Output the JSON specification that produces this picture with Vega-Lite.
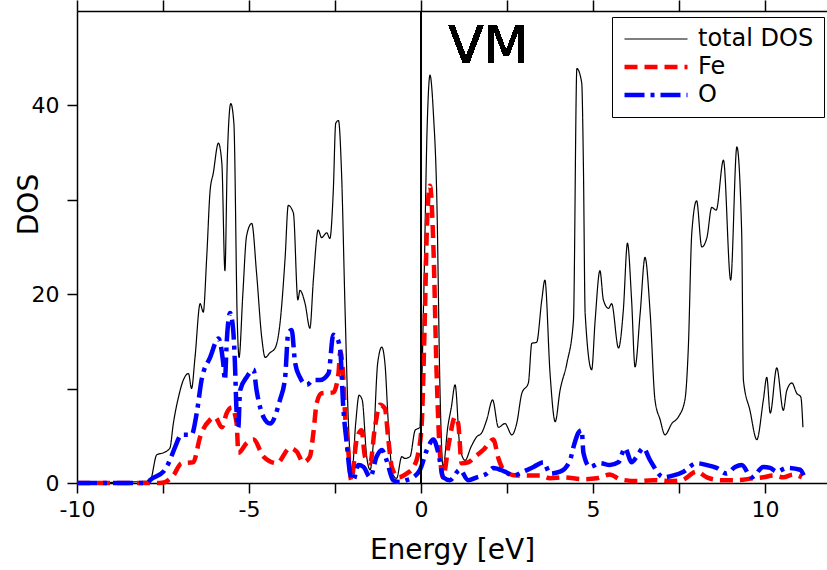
{
  "$schema": "https://vega.github.io/schema/vega-lite/v6.json",
  "width": 750,
  "height": 472,
  "autosize": {"type": "none"},
  "padding": {"left": 77, "top": 11, "right": 0, "bottom": 87},
  "background": "white",
  "config": {"view": {"stroke": null}, "font": "DejaVu Sans"},
  "datasets": {
    "dos": [
      {"series": "total DOS", "energy": -10, "dos": 0},
      {"series": "total DOS", "energy": -7.88, "dos": 0.2},
      {"series": "total DOS", "energy": -7.68, "dos": 3.0},
      {"series": "total DOS", "energy": -7.49, "dos": 3.2},
      {"series": "total DOS", "energy": -7.30, "dos": 3.7},
      {"series": "total DOS", "energy": -7.20, "dos": 6.3},
      {"series": "total DOS", "energy": -7.05, "dos": 9.1},
      {"series": "total DOS", "energy": -6.91, "dos": 10.9},
      {"series": "total DOS", "energy": -6.76, "dos": 11.6},
      {"series": "total DOS", "energy": -6.67, "dos": 10.0},
      {"series": "total DOS", "energy": -6.57, "dos": 13.3},
      {"series": "total DOS", "energy": -6.42, "dos": 19.0},
      {"series": "total DOS", "energy": -6.33, "dos": 18.1},
      {"series": "total DOS", "energy": -6.23, "dos": 23.9},
      {"series": "total DOS", "energy": -6.13, "dos": 31.0},
      {"series": "total DOS", "energy": -6.04, "dos": 32.8},
      {"series": "total DOS", "energy": -5.89, "dos": 36.0},
      {"series": "total DOS", "energy": -5.79, "dos": 33.9},
      {"series": "total DOS", "energy": -5.70, "dos": 22.5},
      {"series": "total DOS", "energy": -5.63, "dos": 34.5},
      {"series": "total DOS", "energy": -5.53, "dos": 40.2},
      {"series": "total DOS", "energy": -5.44, "dos": 38.1},
      {"series": "total DOS", "energy": -5.34, "dos": 16.9},
      {"series": "total DOS", "energy": -5.29, "dos": 13.3},
      {"series": "total DOS", "energy": -5.18, "dos": 20.0},
      {"series": "total DOS", "energy": -5.07, "dos": 26.2},
      {"series": "total DOS", "energy": -4.92, "dos": 27.5},
      {"series": "total DOS", "energy": -4.78, "dos": 22.2},
      {"series": "total DOS", "energy": -4.63, "dos": 15.4},
      {"series": "total DOS", "energy": -4.53, "dos": 13.3},
      {"series": "total DOS", "energy": -4.39, "dos": 13.8},
      {"series": "total DOS", "energy": -4.24, "dos": 14.3},
      {"series": "total DOS", "energy": -4.10, "dos": 16.9},
      {"series": "total DOS", "energy": -3.95, "dos": 23.9},
      {"series": "total DOS", "energy": -3.86, "dos": 29.4},
      {"series": "total DOS", "energy": -3.71, "dos": 28.6},
      {"series": "total DOS", "energy": -3.58, "dos": 19.4},
      {"series": "total DOS", "energy": -3.52, "dos": 20.4},
      {"series": "total DOS", "energy": -3.37, "dos": 19.0},
      {"series": "total DOS", "energy": -3.23, "dos": 16.4},
      {"series": "total DOS", "energy": -3.13, "dos": 21.5},
      {"series": "total DOS", "energy": -2.99, "dos": 26.8},
      {"series": "total DOS", "energy": -2.89, "dos": 26.0},
      {"series": "total DOS", "energy": -2.74, "dos": 26.5},
      {"series": "total DOS", "energy": -2.65, "dos": 25.9},
      {"series": "total DOS", "energy": -2.55, "dos": 31.0},
      {"series": "total DOS", "energy": -2.48, "dos": 38.1},
      {"series": "total DOS", "energy": -2.40, "dos": 38.4},
      {"series": "total DOS", "energy": -2.31, "dos": 32.8},
      {"series": "total DOS", "energy": -2.21, "dos": 18.6},
      {"series": "total DOS", "energy": -2.11, "dos": 6.3},
      {"series": "total DOS", "energy": -2.01, "dos": 1.0},
      {"series": "total DOS", "energy": -1.90, "dos": 6.3},
      {"series": "total DOS", "energy": -1.80, "dos": 9.3},
      {"series": "total DOS", "energy": -1.71, "dos": 8.8},
      {"series": "total DOS", "energy": -1.58, "dos": 2.8},
      {"series": "total DOS", "energy": -1.48, "dos": 1.4},
      {"series": "total DOS", "energy": -1.38, "dos": 4.6},
      {"series": "total DOS", "energy": -1.26, "dos": 12.7},
      {"series": "total DOS", "energy": -1.14, "dos": 14.4},
      {"series": "total DOS", "energy": -1.05, "dos": 12.7},
      {"series": "total DOS", "energy": -0.95, "dos": 6.3},
      {"series": "total DOS", "energy": -0.83, "dos": 1.0},
      {"series": "total DOS", "energy": -0.71, "dos": 0.5},
      {"series": "total DOS", "energy": -0.56, "dos": 2.8},
      {"series": "total DOS", "energy": -0.47, "dos": 2.6},
      {"series": "total DOS", "energy": -0.32, "dos": 2.8},
      {"series": "total DOS", "energy": -0.17, "dos": 5.6},
      {"series": "total DOS", "energy": -0.03, "dos": 5.9},
      {"series": "total DOS", "energy": 0.08, "dos": 20.0},
      {"series": "total DOS", "energy": 0.18, "dos": 38.0},
      {"series": "total DOS", "energy": 0.26, "dos": 43.2},
      {"series": "total DOS", "energy": 0.36, "dos": 39.1},
      {"series": "total DOS", "energy": 0.46, "dos": 29.9},
      {"series": "total DOS", "energy": 0.55, "dos": 10.0},
      {"series": "total DOS", "energy": 0.64, "dos": 1.7},
      {"series": "total DOS", "energy": 0.78, "dos": 6.0},
      {"series": "total DOS", "energy": 0.88, "dos": 8.0},
      {"series": "total DOS", "energy": 0.99, "dos": 10.4},
      {"series": "total DOS", "energy": 1.13, "dos": 3.8},
      {"series": "total DOS", "energy": 1.28, "dos": 2.4},
      {"series": "total DOS", "energy": 1.45, "dos": 3.8},
      {"series": "total DOS", "energy": 1.62, "dos": 4.9},
      {"series": "total DOS", "energy": 1.76, "dos": 5.3},
      {"series": "total DOS", "energy": 1.91, "dos": 6.7},
      {"series": "total DOS", "energy": 2.08, "dos": 8.8},
      {"series": "total DOS", "energy": 2.25, "dos": 5.9},
      {"series": "total DOS", "energy": 2.44, "dos": 6.3},
      {"series": "total DOS", "energy": 2.64, "dos": 5.1},
      {"series": "total DOS", "energy": 2.78, "dos": 6.3},
      {"series": "total DOS", "energy": 2.93, "dos": 9.5},
      {"series": "total DOS", "energy": 3.12, "dos": 10.6},
      {"series": "total DOS", "energy": 3.22, "dos": 14.8},
      {"series": "total DOS", "energy": 3.36, "dos": 14.9},
      {"series": "total DOS", "energy": 3.51, "dos": 19.4},
      {"series": "total DOS", "energy": 3.60, "dos": 21.5},
      {"series": "total DOS", "energy": 3.75, "dos": 11.6},
      {"series": "total DOS", "energy": 3.90, "dos": 6.5},
      {"series": "total DOS", "energy": 4.04, "dos": 9.8},
      {"series": "total DOS", "energy": 4.24, "dos": 12.7},
      {"series": "total DOS", "energy": 4.43, "dos": 17.2},
      {"series": "total DOS", "energy": 4.53, "dos": 43.9},
      {"series": "total DOS", "energy": 4.67, "dos": 42.4},
      {"series": "total DOS", "energy": 4.72, "dos": 33.5},
      {"series": "total DOS", "energy": 4.77, "dos": 18.0},
      {"series": "total DOS", "energy": 4.96, "dos": 12.0},
      {"series": "total DOS", "energy": 5.06, "dos": 17.2},
      {"series": "total DOS", "energy": 5.20, "dos": 22.5},
      {"series": "total DOS", "energy": 5.30, "dos": 19.4},
      {"series": "total DOS", "energy": 5.45, "dos": 18.5},
      {"series": "total DOS", "energy": 5.54, "dos": 19.0},
      {"series": "total DOS", "energy": 5.74, "dos": 14.3},
      {"series": "total DOS", "energy": 5.88, "dos": 18.3},
      {"series": "total DOS", "energy": 6.00, "dos": 25.4},
      {"series": "total DOS", "energy": 6.12, "dos": 19.4},
      {"series": "total DOS", "energy": 6.22, "dos": 12.3},
      {"series": "total DOS", "energy": 6.37, "dos": 18.0},
      {"series": "total DOS", "energy": 6.51, "dos": 23.9},
      {"series": "total DOS", "energy": 6.66, "dos": 18.0},
      {"series": "total DOS", "energy": 6.80, "dos": 8.8},
      {"series": "total DOS", "energy": 6.95, "dos": 6.7},
      {"series": "total DOS", "energy": 7.09, "dos": 5.1},
      {"series": "total DOS", "energy": 7.29, "dos": 6.3},
      {"series": "total DOS", "energy": 7.48, "dos": 7.0},
      {"series": "total DOS", "energy": 7.67, "dos": 8.8},
      {"series": "total DOS", "energy": 7.77, "dos": 14.4},
      {"series": "total DOS", "energy": 7.87, "dos": 26.5},
      {"series": "total DOS", "energy": 8.01, "dos": 29.9},
      {"series": "total DOS", "energy": 8.16, "dos": 25.0},
      {"series": "total DOS", "energy": 8.31, "dos": 26.0},
      {"series": "total DOS", "energy": 8.45, "dos": 29.2},
      {"series": "total DOS", "energy": 8.58, "dos": 28.9},
      {"series": "total DOS", "energy": 8.79, "dos": 34.2},
      {"series": "total DOS", "energy": 9.00, "dos": 21.5},
      {"series": "total DOS", "energy": 9.18, "dos": 35.6},
      {"series": "total DOS", "energy": 9.32, "dos": 26.5},
      {"series": "total DOS", "energy": 9.37, "dos": 10.9},
      {"series": "total DOS", "energy": 9.56, "dos": 7.7},
      {"series": "total DOS", "energy": 9.76, "dos": 4.6},
      {"series": "total DOS", "energy": 9.95, "dos": 8.8},
      {"series": "total DOS", "energy": 10.05, "dos": 11.2},
      {"series": "total DOS", "energy": 10.15, "dos": 7.4},
      {"series": "total DOS", "energy": 10.34, "dos": 12.2},
      {"series": "total DOS", "energy": 10.53, "dos": 7.7},
      {"series": "total DOS", "energy": 10.63, "dos": 9.8},
      {"series": "total DOS", "energy": 10.78, "dos": 10.6},
      {"series": "total DOS", "energy": 10.92, "dos": 9.5},
      {"series": "total DOS", "energy": 11.04, "dos": 9.1},
      {"series": "total DOS", "energy": 11.10, "dos": 5.9},

      {"series": "Fe", "energy": -10, "dos": 0},
      {"series": "Fe", "energy": -7.6, "dos": 0},
      {"series": "Fe", "energy": -7.44, "dos": 0.1},
      {"series": "Fe", "energy": -7.20, "dos": 0.8},
      {"series": "Fe", "energy": -6.96, "dos": 2.1},
      {"series": "Fe", "energy": -6.62, "dos": 2.2},
      {"series": "Fe", "energy": -6.42, "dos": 4.9},
      {"series": "Fe", "energy": -6.13, "dos": 6.7},
      {"series": "Fe", "energy": -5.99, "dos": 7.0},
      {"series": "Fe", "energy": -5.79, "dos": 5.9},
      {"series": "Fe", "energy": -5.65, "dos": 7.4},
      {"series": "Fe", "energy": -5.50, "dos": 8.0},
      {"series": "Fe", "energy": -5.36, "dos": 6.3},
      {"series": "Fe", "energy": -5.31, "dos": 3.2},
      {"series": "Fe", "energy": -5.07, "dos": 4.2},
      {"series": "Fe", "energy": -4.87, "dos": 4.6},
      {"series": "Fe", "energy": -4.58, "dos": 2.8},
      {"series": "Fe", "energy": -4.19, "dos": 2.1},
      {"series": "Fe", "energy": -3.81, "dos": 3.7},
      {"series": "Fe", "energy": -3.61, "dos": 3.3},
      {"series": "Fe", "energy": -3.42, "dos": 2.2},
      {"series": "Fe", "energy": -3.23, "dos": 2.8},
      {"series": "Fe", "energy": -3.13, "dos": 5.3},
      {"series": "Fe", "energy": -3.03, "dos": 8.5},
      {"series": "Fe", "energy": -2.89, "dos": 9.5},
      {"series": "Fe", "energy": -2.55, "dos": 9.6},
      {"series": "Fe", "energy": -2.40, "dos": 11.6},
      {"series": "Fe", "energy": -2.35, "dos": 13.9},
      {"series": "Fe", "energy": -2.26, "dos": 11.2},
      {"series": "Fe", "energy": -2.21, "dos": 7.4},
      {"series": "Fe", "energy": -2.11, "dos": 3.2},
      {"series": "Fe", "energy": -2.03, "dos": 0.3},
      {"series": "Fe", "energy": -1.87, "dos": 4.6},
      {"series": "Fe", "energy": -1.73, "dos": 5.6},
      {"series": "Fe", "energy": -1.63, "dos": 2.8},
      {"series": "Fe", "energy": -1.48, "dos": 2.1},
      {"series": "Fe", "energy": -1.34, "dos": 5.9},
      {"series": "Fe", "energy": -1.19, "dos": 8.3},
      {"series": "Fe", "energy": -1.05, "dos": 7.9},
      {"series": "Fe", "energy": -0.95, "dos": 4.6},
      {"series": "Fe", "energy": -0.85, "dos": 1.7},
      {"series": "Fe", "energy": -0.66, "dos": 0.6},
      {"series": "Fe", "energy": -0.42, "dos": 1.0},
      {"series": "Fe", "energy": -0.22, "dos": 1.7},
      {"series": "Fe", "energy": -0.08, "dos": 3.2},
      {"series": "Fe", "energy": 0.02, "dos": 6.3},
      {"series": "Fe", "energy": 0.10, "dos": 16.0},
      {"series": "Fe", "energy": 0.18, "dos": 28.0},
      {"series": "Fe", "energy": 0.26, "dos": 31.5},
      {"series": "Fe", "energy": 0.36, "dos": 25.0},
      {"series": "Fe", "energy": 0.45, "dos": 12.0},
      {"series": "Fe", "energy": 0.55, "dos": 3.0},
      {"series": "Fe", "energy": 0.64, "dos": 0.6},
      {"series": "Fe", "energy": 0.80, "dos": 4.0},
      {"series": "Fe", "energy": 0.99, "dos": 7.0},
      {"series": "Fe", "energy": 1.08, "dos": 6.3},
      {"series": "Fe", "energy": 1.18, "dos": 2.1},
      {"series": "Fe", "energy": 1.37, "dos": 2.2},
      {"series": "Fe", "energy": 1.57, "dos": 2.8},
      {"series": "Fe", "energy": 1.81, "dos": 3.5},
      {"series": "Fe", "energy": 2.10, "dos": 4.6},
      {"series": "Fe", "energy": 2.25, "dos": 2.6},
      {"series": "Fe", "energy": 2.44, "dos": 1.2},
      {"series": "Fe", "energy": 2.78, "dos": 0.8},
      {"series": "Fe", "energy": 3.12, "dos": 0.8},
      {"series": "Fe", "energy": 3.46, "dos": 0.8},
      {"series": "Fe", "energy": 3.75, "dos": 0.5},
      {"series": "Fe", "energy": 4.14, "dos": 0.6},
      {"series": "Fe", "energy": 4.72, "dos": 0.4},
      {"series": "Fe", "energy": 5.11, "dos": 0.5},
      {"series": "Fe", "energy": 5.49, "dos": 0.9},
      {"series": "Fe", "energy": 5.78, "dos": 0.4},
      {"series": "Fe", "energy": 6.27, "dos": 0.2},
      {"series": "Fe", "energy": 6.75, "dos": 0.3},
      {"series": "Fe", "energy": 7.24, "dos": 0.2},
      {"series": "Fe", "energy": 7.58, "dos": 0.3},
      {"series": "Fe", "energy": 8.01, "dos": 1.2},
      {"series": "Fe", "energy": 8.31, "dos": 0.6},
      {"series": "Fe", "energy": 8.69, "dos": 0.3},
      {"series": "Fe", "energy": 9.18, "dos": 0.3},
      {"series": "Fe", "energy": 9.66, "dos": 0.5},
      {"series": "Fe", "energy": 9.95, "dos": 0.6},
      {"series": "Fe", "energy": 10.24, "dos": 0.8},
      {"series": "Fe", "energy": 10.53, "dos": 0.6},
      {"series": "Fe", "energy": 10.82, "dos": 0.9},
      {"series": "Fe", "energy": 11.07, "dos": 0.6},

      {"series": "O", "energy": -10, "dos": 0},
      {"series": "O", "energy": -7.95, "dos": 0},
      {"series": "O", "energy": -7.88, "dos": 0.3},
      {"series": "O", "energy": -7.49, "dos": 1.2},
      {"series": "O", "energy": -7.30, "dos": 2.4},
      {"series": "O", "energy": -7.15, "dos": 3.8},
      {"series": "O", "energy": -6.96, "dos": 5.1},
      {"series": "O", "energy": -6.67, "dos": 5.1},
      {"series": "O", "energy": -6.52, "dos": 7.4},
      {"series": "O", "energy": -6.38, "dos": 10.9},
      {"series": "O", "energy": -6.13, "dos": 13.3},
      {"series": "O", "energy": -5.89, "dos": 15.3},
      {"series": "O", "energy": -5.75, "dos": 12.7},
      {"series": "O", "energy": -5.70, "dos": 10.9},
      {"series": "O", "energy": -5.65, "dos": 14.8},
      {"series": "O", "energy": -5.55, "dos": 18.0},
      {"series": "O", "energy": -5.46, "dos": 16.2},
      {"series": "O", "energy": -5.41, "dos": 12.7},
      {"series": "O", "energy": -5.36, "dos": 7.4},
      {"series": "O", "energy": -5.31, "dos": 5.9},
      {"series": "O", "energy": -5.26, "dos": 9.8},
      {"series": "O", "energy": -5.07, "dos": 11.2},
      {"series": "O", "energy": -4.87, "dos": 12.0},
      {"series": "O", "energy": -4.78, "dos": 9.8},
      {"series": "O", "energy": -4.58, "dos": 7.0},
      {"series": "O", "energy": -4.39, "dos": 6.3},
      {"series": "O", "energy": -4.10, "dos": 8.8},
      {"series": "O", "energy": -3.95, "dos": 11.2},
      {"series": "O", "energy": -3.86, "dos": 15.9},
      {"series": "O", "energy": -3.76, "dos": 16.2},
      {"series": "O", "energy": -3.66, "dos": 12.7},
      {"series": "O", "energy": -3.52, "dos": 11.2},
      {"series": "O", "energy": -3.32, "dos": 10.4},
      {"series": "O", "energy": -3.13, "dos": 10.9},
      {"series": "O", "energy": -2.94, "dos": 10.9},
      {"series": "O", "energy": -2.69, "dos": 11.6},
      {"series": "O", "energy": -2.55, "dos": 15.7},
      {"series": "O", "energy": -2.45, "dos": 15.4},
      {"series": "O", "energy": -2.35, "dos": 14.1},
      {"series": "O", "energy": -2.26, "dos": 8.0},
      {"series": "O", "energy": -2.16, "dos": 4.2},
      {"series": "O", "energy": -2.06, "dos": 1.0},
      {"series": "O", "energy": -1.97, "dos": 0.3},
      {"series": "O", "energy": -1.82, "dos": 1.9},
      {"series": "O", "energy": -1.67, "dos": 1.7},
      {"series": "O", "energy": -1.48, "dos": 0.6},
      {"series": "O", "energy": -1.29, "dos": 2.8},
      {"series": "O", "energy": -1.14, "dos": 3.5},
      {"series": "O", "energy": -1.00, "dos": 2.4},
      {"series": "O", "energy": -0.81, "dos": 0.3},
      {"series": "O", "energy": -0.61, "dos": 0.1},
      {"series": "O", "energy": -0.42, "dos": 0.3},
      {"series": "O", "energy": -0.22, "dos": 0.6},
      {"series": "O", "energy": -0.03, "dos": 1.4},
      {"series": "O", "energy": 0.17, "dos": 3.5},
      {"series": "O", "energy": 0.36, "dos": 4.6},
      {"series": "O", "energy": 0.50, "dos": 3.2},
      {"series": "O", "energy": 0.65, "dos": 0.6},
      {"series": "O", "energy": 0.84, "dos": 0.3},
      {"series": "O", "energy": 1.13, "dos": 1.4},
      {"series": "O", "energy": 1.37, "dos": 0.3},
      {"series": "O", "energy": 1.62, "dos": 0.6},
      {"series": "O", "energy": 1.91, "dos": 1.0},
      {"series": "O", "energy": 2.10, "dos": 1.6},
      {"series": "O", "energy": 2.44, "dos": 1.2},
      {"series": "O", "energy": 2.68, "dos": 0.8},
      {"series": "O", "energy": 2.97, "dos": 1.2},
      {"series": "O", "energy": 3.27, "dos": 1.7},
      {"series": "O", "energy": 3.56, "dos": 2.2},
      {"series": "O", "energy": 3.75, "dos": 1.0},
      {"series": "O", "energy": 4.04, "dos": 1.2},
      {"series": "O", "energy": 4.33, "dos": 2.4},
      {"series": "O", "energy": 4.43, "dos": 3.8},
      {"series": "O", "energy": 4.57, "dos": 5.3},
      {"series": "O", "energy": 4.67, "dos": 5.6},
      {"series": "O", "energy": 4.72, "dos": 3.2},
      {"series": "O", "energy": 4.91, "dos": 1.7},
      {"series": "O", "energy": 5.20, "dos": 2.1},
      {"series": "O", "energy": 5.49, "dos": 1.9},
      {"series": "O", "energy": 5.74, "dos": 2.2},
      {"series": "O", "energy": 5.93, "dos": 3.7},
      {"series": "O", "energy": 6.12, "dos": 2.2},
      {"series": "O", "energy": 6.27, "dos": 2.8},
      {"series": "O", "energy": 6.46, "dos": 3.7},
      {"series": "O", "energy": 6.66, "dos": 2.4},
      {"series": "O", "energy": 7.05, "dos": 0.6},
      {"series": "O", "energy": 7.34, "dos": 0.8},
      {"series": "O", "energy": 7.63, "dos": 1.2},
      {"series": "O", "energy": 8.01, "dos": 2.1},
      {"series": "O", "energy": 8.31, "dos": 1.9},
      {"series": "O", "energy": 8.59, "dos": 1.6},
      {"series": "O", "energy": 8.88, "dos": 1.0},
      {"series": "O", "energy": 9.13, "dos": 1.7},
      {"series": "O", "energy": 9.32, "dos": 1.9},
      {"series": "O", "energy": 9.61, "dos": 0.6},
      {"series": "O", "energy": 9.95, "dos": 1.7},
      {"series": "O", "energy": 10.15, "dos": 1.6},
      {"series": "O", "energy": 10.34, "dos": 1.2},
      {"series": "O", "energy": 10.63, "dos": 1.6},
      {"series": "O", "energy": 11.02, "dos": 1.4},
      {"series": "O", "energy": 11.12, "dos": 0.8}
    ]
  },
  "data": {"name": "dos"},
  "layer": [
    {
      "mark": {"type": "line", "strokeJoin": "round", "interpolate": "monotone"},
      "encoding": {
        "x": {
          "field": "energy",
          "type": "quantitative",
          "scale": {"domain": [-10, 11.8], "nice": false, "zero": false},
          "axis": {
            "orient": "bottom",
            "values": [-10, -7.5, -5, -2.5, 0, 2.5, 5, 7.5, 10],
            "labelExpr": "datum.value % 5 === 0 ? '' + datum.value : ''",
            "tickSize": 10,
            "tickColor": "black",
            "tickWidth": 1.5,
            "domainColor": "black",
            "domainWidth": 1.5,
            "grid": false,
            "labelFont": "DejaVu Sans",
            "labelFontSize": 22,
            "labelColor": "black",
            "labelPadding": 6,
            "labelFlush": false,
            "labelOverlap": false,
            "title": "Energy [eV]",
            "titleFont": "DejaVu Sans",
            "titleFontSize": 28,
            "titleFontWeight": "normal",
            "titleColor": "black",
            "titlePadding": 16,
            "encode": {
              "ticks": {"update": {"y2": {"signal": "datum.value % 5 === 0 ? 10 : 7"}}}
            }
          }
        },
        "y": {
          "field": "dos",
          "type": "quantitative",
          "scale": {"domain": [0, 50], "nice": false},
          "axis": {
            "orient": "left",
            "values": [0, 10, 20, 30, 40],
            "labelExpr": "datum.value % 20 === 0 ? '' + datum.value : ''",
            "tickSize": 10,
            "tickColor": "black",
            "tickWidth": 1.5,
            "domainColor": "black",
            "domainWidth": 1.5,
            "grid": false,
            "labelFont": "DejaVu Sans",
            "labelFontSize": 22,
            "labelColor": "black",
            "labelPadding": 8,
            "labelFlush": false,
            "title": "DOS",
            "titleFont": "DejaVu Sans",
            "titleFontSize": 28,
            "titleFontWeight": "normal",
            "titleColor": "black",
            "titleAngle": 270,
            "titleAlign": "center",
            "titleBaseline": "bottom",
            "titleX": -34,
            "titleY": 193,
            "encode": {
              "ticks": {"update": {"x2": {"signal": "datum.value % 20 === 0 ? -10 : -6"}}}
            }
          }
        },
        "color": {
          "field": "series",
          "type": "nominal",
          "scale": {"domain": ["total DOS", "Fe", "O"], "range": ["#000000", "#ff0000", "#0000ff"]},
          "legend": {
            "title": null,
            "orient": "none",
            "legendX": 535,
            "legendY": 6,
            "padding": 10,
            "strokeColor": "black",
            "fillColor": "white",
            "symbolType": "stroke",
            "symbolSize": 3969,
            "clipHeight": 24,
            "rowPadding": 4,
            "labelFont": "DejaVu Sans",
            "labelFontSize": 24,
            "labelColor": "black",
            "labelOffset": 8,
            "labelLimit": 300
          }
        },
        "strokeDash": {
          "field": "series",
          "type": "nominal",
          "scale": {"domain": ["total DOS", "Fe", "O"], "range": [[1, 0], [13, 7], [20, 6, 4, 6]]}
        },
        "strokeWidth": {
          "field": "series",
          "type": "nominal",
          "scale": {"type": "ordinal", "domain": ["total DOS", "Fe", "O"], "range": [1.2, 4.5, 4.5]}
        }
      }
    },
    {
      "mark": {"type": "rule", "color": "black", "strokeWidth": 1.5},
      "encoding": {
        "x": {
          "datum": 0,
          "type": "quantitative",
          "axis": {
            "orient": "top",
            "values": [-10, -7.5, -5, -2.5, 0, 2.5, 5, 7.5, 10],
            "labels": false,
            "title": null,
            "grid": false,
            "tickSize": 11,
            "tickColor": "black",
            "tickWidth": 1.5,
            "domainColor": "black",
            "domainWidth": 1.5,
            "encode": {
              "ticks": {"update": {"y2": {"signal": "datum.value % 5 === 0 ? -11 : -6"}}}
            }
          }
        }
      }
    },
    {
      "mark": {"type": "text", "text": "VM", "font": "DejaVu Sans", "fontSize": 52, "color": "black", "align": "center", "baseline": "alphabetic"},
      "encoding": {
        "x": {"datum": 1.96, "type": "quantitative", "axis": null},
        "y": {"datum": 44.5, "type": "quantitative"}
      }
    }
  ],
  "resolve": {"axis": {"x": "independent"}}
}
